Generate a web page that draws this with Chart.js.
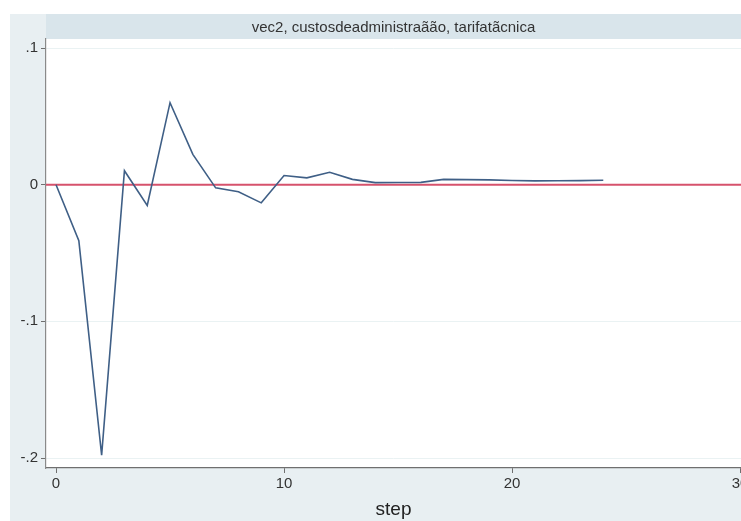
<!DOCTYPE html>
<html>
<head>
<meta charset="utf-8">
<script src="https://cdn.jsdelivr.net/npm/chart.js@4.4.0/dist/chart.umd.min.js"></script>
<style>
  html, body { margin: 0; padding: 0; background: #ffffff; overflow: hidden; }
  canvas { display: block; }
</style>
</head>
<body>
<canvas id="irf" width="741" height="521"></canvas>
<script>
// impulse response: vec2, custosdeadministraãão -> tarifatãcnica
const steps = [0, 1, 2, 3, 4, 5, 6, 7, 8, 9, 10, 11, 12, 13, 14, 15, 16, 17, 18, 19, 20, 21, 22, 23, 24];
const irf = [0, -0.041, -0.198, 0.0102, -0.0152, 0.060, 0.0222, -0.0023, -0.0051, -0.0133,
             0.0067, 0.0050, 0.0091, 0.0039, 0.0015, 0.0016, 0.0017, 0.0039, 0.0037, 0.0035,
             0.0031, 0.0028, 0.0029, 0.0030, 0.0032];
const xTicks = [0, 10, 20, 30];
const yTicks = [-0.2, -0.1, 0, 0.1];
const yLine = 0;
const panelTitle = 'vec2, custosdeadministraãão, tarifatãcnica';
const xTitle = 'step';

const FONT = '"Liberation Sans", Arial, sans-serif';

// Stata-like backdrop: outer region, title band, red yline
const statBackdrop = {
    id: 'statBackdrop',
    beforeDraw(chart) {
        const { ctx, chartArea: a } = chart;
        ctx.save();
        ctx.fillStyle = '#e8eff2';
        ctx.fillRect(10, 14, chart.width - 10, chart.height - 14);
        ctx.fillStyle = '#d9e5eb';
        ctx.fillRect(a.left, 14, a.right - a.left, a.top - 14);
        ctx.fillStyle = '#ffffff';
        ctx.fillRect(a.left, a.top, a.right - a.left, a.bottom - a.top);
        ctx.fillStyle = '#333333';
        ctx.font = '15px ' + FONT;
        ctx.textAlign = 'center';
        ctx.textBaseline = 'middle';
        ctx.fillText(panelTitle, (a.left + a.right) / 2, (14 + a.top) / 2 + 1);
        ctx.restore();
    },
    beforeDatasetsDraw(chart) {
        const { ctx, chartArea: a, scales } = chart;
        const y = scales.y.getPixelForValue(yLine);
        ctx.save();
        ctx.strokeStyle = '#d6526c';
        ctx.lineWidth = 2;
        ctx.beginPath();
        ctx.moveTo(a.left, y);
        ctx.lineTo(a.right, y);
        ctx.stroke();
        ctx.restore();
    }
};

new Chart(document.getElementById('irf'), {
    type: 'line',
    data: {
        datasets: [{
            data: steps.map((s, i) => ({ x: s, y: irf[i] })),
            borderColor: '#3f5f86',
            borderWidth: 1.6,
            pointRadius: 0,
            tension: 0,
            fill: false
        }]
    },
    options: {
        responsive: false,
        animation: false,
        devicePixelRatio: 1,
        layout: { padding: { left: 0, top: 39, right: 0, bottom: 0 } },
        plugins: {
            legend: { display: false },
            tooltip: { enabled: false }
        },
        scales: {
            x: {
                type: 'linear',
                min: -0.44,
                max: 30.04,
                afterBuildTicks: s => { s.ticks = xTicks.map(v => ({ value: v })); },
                // let the "30" label run off the edge instead of shrinking the plot
                afterFit: s => { s.height = 53; s.paddingLeft = 0; s.paddingRight = 0; },
                border: { display: true, color: '#6f6f6f', width: 1.2 },
                grid: { drawOnChartArea: false, drawTicks: true, tickLength: 5, tickColor: '#6f6f6f' },
                ticks: {
                    color: '#333333',
                    font: { family: FONT, size: 15 },
                    padding: 2,
                    maxRotation: 0,
                    callback: v => String(v)
                },
                title: {
                    display: true,
                    text: xTitle,
                    color: '#222222',
                    font: { family: FONT, size: 19 },
                    padding: { top: 5, bottom: 0 }
                }
            },
            y: {
                min: -0.2073,
                max: 0.1066,
                afterBuildTicks: s => { s.ticks = yTicks.map(v => ({ value: v })); },
                afterFit: s => { s.width = 46; s.paddingTop = 0; s.paddingBottom = 0; },
                border: { display: true, color: '#8a8a8a', width: 1.2 },
                grid: { color: '#eaf2f3', lineWidth: 1, drawTicks: true, tickLength: 5, tickColor: '#6f6f6f' },
                ticks: {
                    color: '#333333',
                    font: { family: FONT, size: 15 },
                    padding: 3,
                    callback: v => {
                        const r = Math.round(v * 10) / 10;
                        if (r === 0) return '0';
                        return (r < 0 ? '-' : '') + String(Math.abs(r)).replace(/^0/, '');
                    }
                }
            }
        }
    },
    plugins: [statBackdrop]
});
</script>
</body>
</html>
